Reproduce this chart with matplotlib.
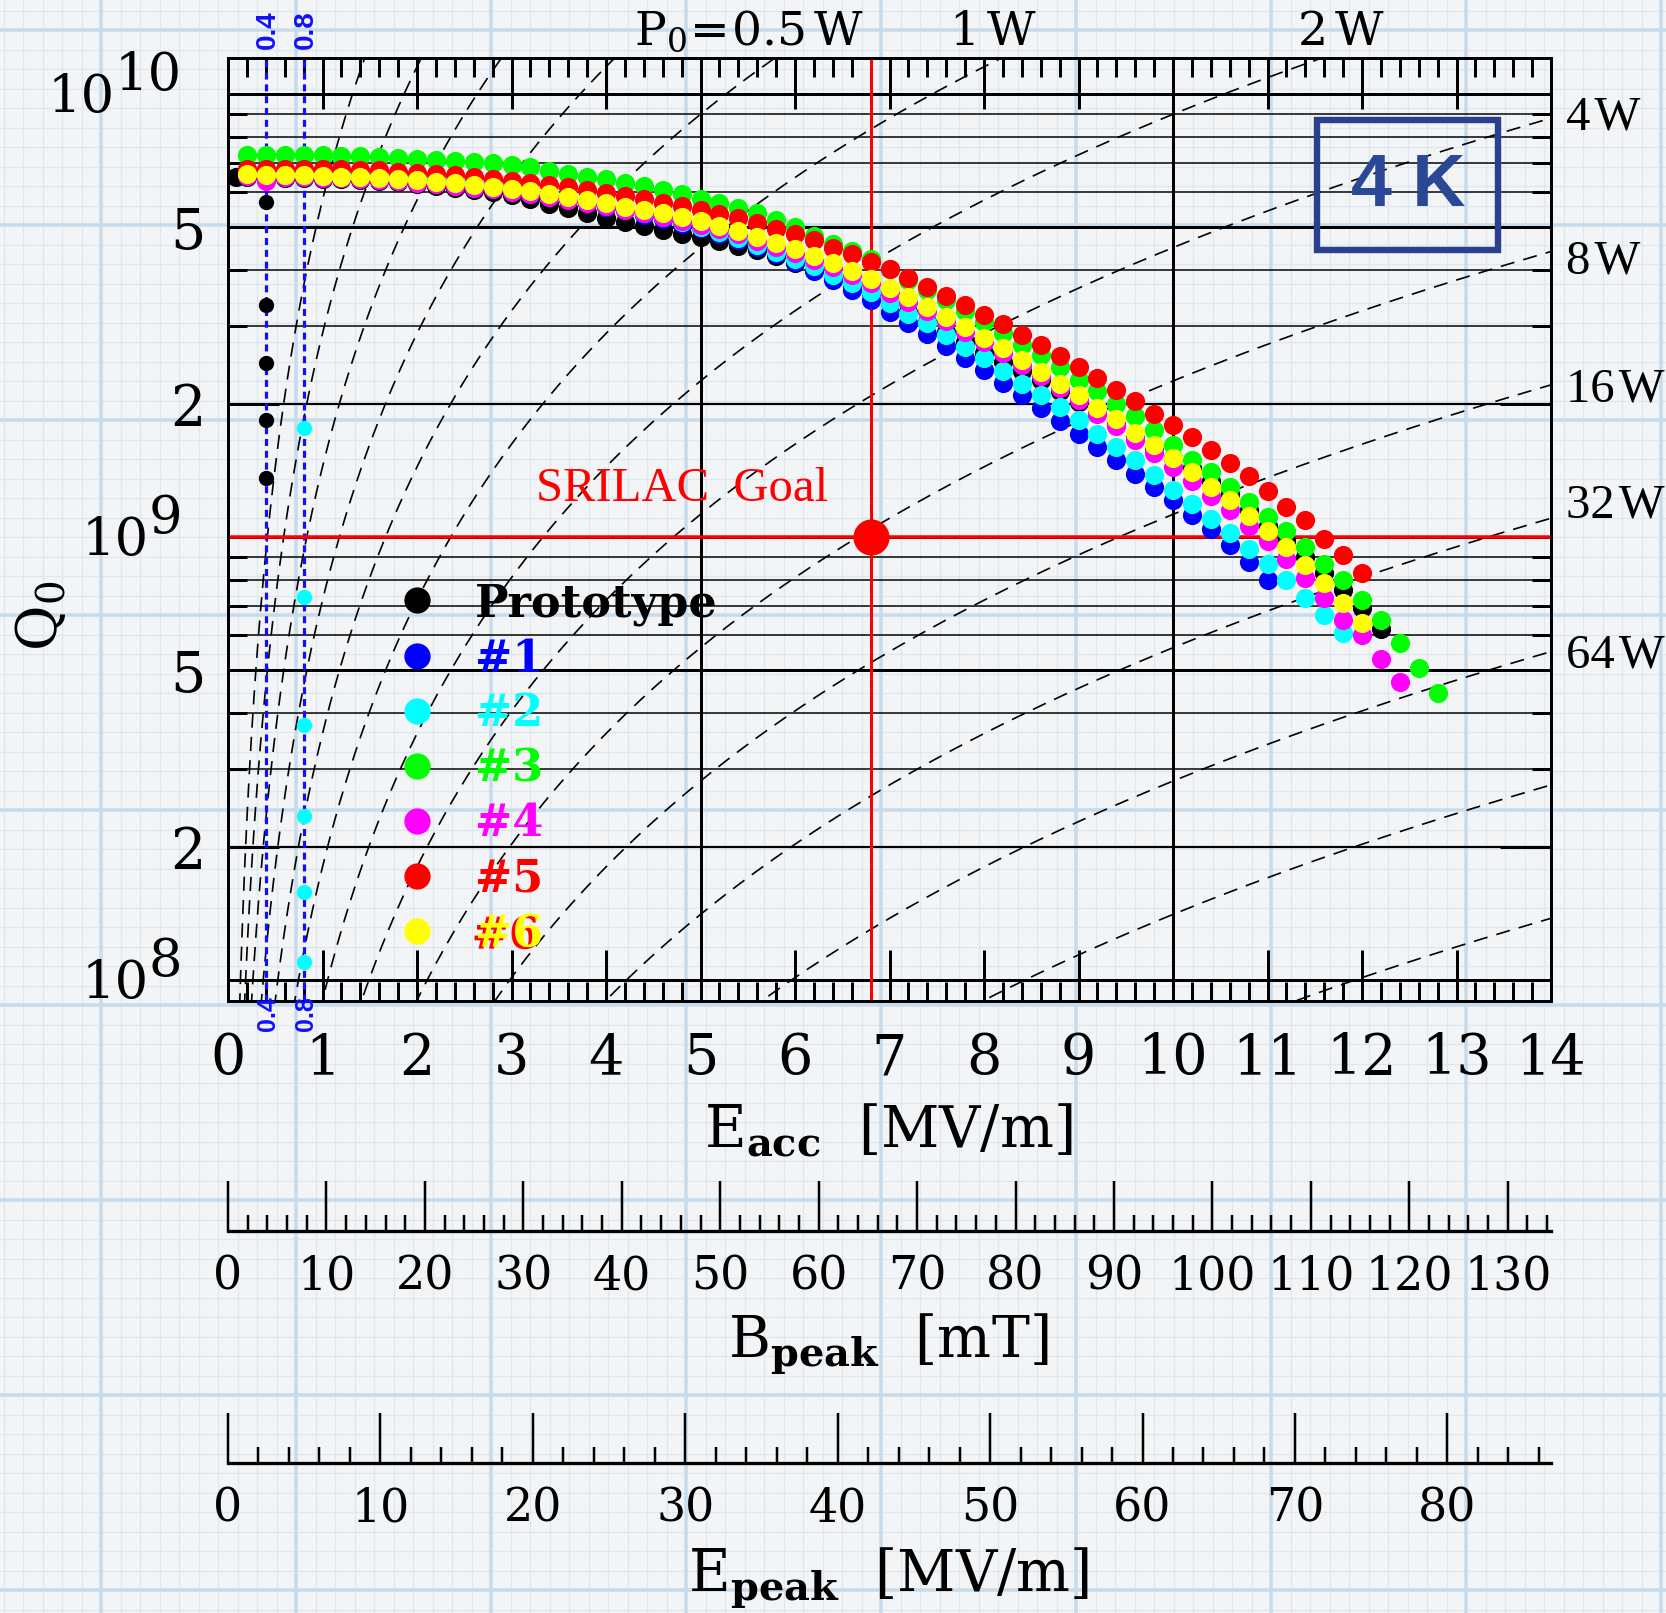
import matplotlib
matplotlib.use("Agg")
import matplotlib.pyplot as plt
import matplotlib.patheffects as pe
from matplotlib.patches import Rectangle
from matplotlib.ticker import MultipleLocator, FixedLocator, NullFormatter
import numpy as np

W_PX, H_PX, DPI = 1666, 1613, 100
PX = 72.0 / DPI  # one pixel in points

plt.rcParams['font.family'] = ['DejaVu Serif']
plt.rcParams['mathtext.fontset'] = 'dejavuserif'

# ---------------- data (Q0 in units of 1e9, E_acc step 0.2 MV/m from 0.2) ----------------
E_STEP = 0.2
Q_PROTO = [6.48, 6.48, 6.47, 6.46, 6.44, 6.42, 6.39, 6.36, 6.32, 6.27,
           6.21, 6.15, 6.08, 6.01, 5.92, 5.80, 5.66, 5.52, 5.38, 5.25,
           5.13, 5.03, 4.93, 4.84, 4.75, 4.65, 4.55, 4.44, 4.30, 4.16,
           4.02, 3.87, 3.71, 3.55, 3.38, 3.22, 3.06, 2.91, 2.75, 2.60,
           2.48, 2.37, 2.26, 2.14, 2.02, 1.91, 1.80, 1.70, 1.60, 1.51,
           1.43, 1.34, 1.25, 1.15, 1.06, 0.98, 0.90, 0.83, 0.76, 0.69,
           0.62]
Q_1 = [6.55, 6.55, 6.54, 6.53, 6.51, 6.49, 6.46, 6.43, 6.39, 6.34,
       6.29, 6.24, 6.18, 6.11, 6.04, 5.96, 5.88, 5.78, 5.68, 5.57,
       5.46, 5.34, 5.22, 5.10, 4.98, 4.84, 4.68, 4.52, 4.35, 4.17,
       3.98, 3.80, 3.62, 3.42, 3.22, 3.04, 2.87, 2.70, 2.54, 2.38,
       2.23, 2.09, 1.96, 1.83, 1.71, 1.60, 1.49, 1.39, 1.30, 1.21,
       1.12, 1.04, 0.96, 0.88, 0.80]
Q_2 = [6.76, 6.75, 6.74, 6.72, 6.69, 6.66, 6.62, 6.58, 6.53, 6.48,
       6.42, 6.36, 6.29, 6.22, 6.14, 6.05, 5.96, 5.86, 5.75, 5.64,
       5.52, 5.40, 5.28, 5.15, 5.02, 4.88, 4.73, 4.57, 4.41, 4.25,
       4.08, 3.90, 3.74, 3.58, 3.37, 3.19, 3.04, 2.86, 2.69, 2.53,
       2.37, 2.22, 2.09, 1.97, 1.84, 1.71, 1.60, 1.49, 1.38, 1.28,
       1.19, 1.10, 1.02, 0.94, 0.87, 0.80, 0.73, 0.665, 0.606]
Q_3 = [7.28, 7.28, 7.28, 7.28, 7.27, 7.26, 7.24, 7.21, 7.18, 7.15,
       7.11, 7.07, 7.02, 6.97, 6.91, 6.84, 6.71, 6.60, 6.51, 6.42,
       6.31, 6.20, 6.07, 5.94, 5.80, 5.67, 5.52, 5.38, 5.19, 5.00,
       4.78, 4.59, 4.42, 4.24, 4.02, 3.81, 3.62, 3.43, 3.23, 3.05,
       2.89, 2.71, 2.57, 2.42, 2.26, 2.14, 2.00, 1.88, 1.74, 1.61,
       1.49, 1.40, 1.30, 1.20, 1.11, 1.03, 0.95, 0.87, 0.80, 0.72,
       0.65, 0.575, 0.505, 0.444]
Q_4 = [6.52, 6.36, 6.50, 6.49, 6.47, 6.45, 6.42, 6.39, 6.35, 6.30,
       6.26, 6.21, 6.15, 6.09, 6.02, 5.95, 5.87, 5.77, 5.68, 5.58,
       5.48, 5.38, 5.28, 5.18, 5.07, 4.95, 4.82, 4.67, 4.52, 4.38,
       4.23, 4.07, 3.90, 3.74, 3.56, 3.40, 3.23, 3.07, 2.91, 2.75,
       2.60, 2.44, 2.31, 2.17, 2.04, 1.90, 1.78, 1.66, 1.55, 1.44,
       1.34, 1.24, 1.15, 1.06, 0.98, 0.89, 0.81, 0.73, 0.65, 0.60,
       0.53, 0.47]
Q_5 = [6.78, 6.78, 6.78, 6.78, 6.77, 6.76, 6.74, 6.72, 6.68, 6.64,
       6.60, 6.55, 6.49, 6.43, 6.37, 6.30, 6.23, 6.16, 6.07, 5.99,
       5.89, 5.78, 5.68, 5.59, 5.47, 5.36, 5.26, 5.11, 4.96, 4.82,
       4.68, 4.50, 4.35, 4.18, 4.02, 3.84, 3.67, 3.50, 3.34, 3.17,
       3.02, 2.86, 2.71, 2.56, 2.42, 2.28, 2.15, 2.03, 1.90, 1.79,
       1.68, 1.57, 1.47, 1.37, 1.27, 1.17, 1.09, 0.99, 0.91, 0.83]
Q_6 = [6.60, 6.58, 6.57, 6.55, 6.53, 6.51, 6.49, 6.46, 6.42, 6.38,
       6.34, 6.29, 6.24, 6.18, 6.11, 6.03, 5.95, 5.84, 5.76, 5.67,
       5.57, 5.47, 5.38, 5.28, 5.17, 5.04, 4.91, 4.75, 4.60, 4.46,
       4.31, 4.15, 3.98, 3.83, 3.64, 3.48, 3.31, 3.14, 2.98, 2.82,
       2.67, 2.51, 2.36, 2.22, 2.09, 1.96, 1.85, 1.72, 1.61, 1.51,
       1.40, 1.30, 1.21, 1.115, 1.03, 0.948, 0.865, 0.789, 0.708, 0.638]

SERIES_NAMES = ["Prototype", "#1", "#2", "#3", "#4", "#5", "#6"]
SERIES_COLORS = ["#000000", "#0000ff", "#00ffff", "#00ff00", "#ff00ff", "#ff0000", "#ffff00"]
SERIES_Q = [Q_PROTO, Q_1, Q_2, Q_3, Q_4, Q_5, Q_6]

# extra low-field points
E_PROTO_FIRST, Q_PROTO_FIRST = 0.08, 6.48
E_PROTO_LOW = [0.4, 0.4, 0.4, 0.4, 0.4]
Q_PROTO_LOW = [5.71, 3.34, 2.47, 1.84, 1.36]
E_CAV2_LOW = [0.8, 0.8, 0.8, 0.8, 0.8, 0.8]
Q_CAV2_LOW = [1.76, 0.734, 0.377, 0.235, 0.158, 0.110]
LOW_FIELD_LINES = [0.4, 0.8]

# constant-power lines: Q0 = K * Eacc^2 / P0
K_GEOM = 1.8e8
POWERS_W = [1 / 32, 1 / 16, 1 / 8, 1 / 4, 1 / 2, 1, 2, 4, 8, 16, 32, 64, 128, 256]
RIGHT_POWER_LABELS = ['4', '8', '16', '32', '64']

GOAL_E, GOAL_Q = 6.8, 1e9
BPEAK_PER_EACC = 9.6   # mT per MV/m
EPEAK_PER_EACC = 6.2

NARROW = ['Liberation Serif', 'DejaVu Serif']


def fx(x):
    return x / W_PX


def fy(y):
    return 1 - y / H_PX


fig = plt.figure(figsize=(W_PX / DPI, H_PX / DPI), dpi=DPI)
fig.patch.set_facecolor('#f3f4f5')

# graph paper background
bg = fig.add_axes([0, 0, 1, 1], zorder=-10)
bg.set_xlim(0, W_PX)
bg.set_ylim(H_PX, 0)
bg.axis('off')
cell = 19.5
xs = np.arange(4, W_PX, cell)
ys = np.arange(10.5, H_PX, cell)
bg.vlines(xs, 0, H_PX, colors='#dce8f1', lw=1.2 * PX)
bg.hlines(ys, 0, W_PX, colors='#dce8f1', lw=1.2 * PX)
bg.vlines(xs[5::10], 0, H_PX, colors='#c6dcec', lw=3.5 * PX)
bg.hlines(ys[1::10], 0, W_PX, colors='#c6dcec', lw=3.5 * PX)

# ---------------- main axes ----------------
ax = fig.add_axes([fx(228), fy(1001), fx(1551) - fx(228), (1001 - 58) / H_PX])
ax.patch.set_alpha(0)
ax.set_xlim(0, 14)
ax.set_yscale('log')
ax.set_ylim(10 ** 7.9526, 10 ** 10.0813)

for s in ax.spines.values():
    s.set_linewidth(3 * PX)

# horizontal grid
for d in (8, 9):
    for m in range(1, 10):
        lw = 3 if m in (1, 5) else (2.2 if m == 2 else 1.5)
        ax.axhline(m * 10.0 ** d, color='k', lw=lw * PX, zorder=1)
ax.axhline(1e10, color='k', lw=3 * PX, zorder=1)
for xv in (5, 10):
    ax.axvline(xv, color='k', lw=3 * PX, zorder=1)

# constant-power dashed lines
e_line = np.linspace(0.005, 14, 1200)
for p in POWERS_W:
    ax.plot(e_line, K_GEOM * e_line ** 2 / p, color='k', lw=1.2, dashes=(8.5, 5.5), zorder=1.5)

# low-field markers lines
for ev in LOW_FIELD_LINES:
    ax.axvline(ev, color='#1010ff', lw=2.3, dashes=(2.2, 1.5), zorder=2)

# goal lines
ax.axvline(GOAL_E, color='#ff0000', lw=3 * PX, zorder=2)
ax.axhline(GOAL_Q, color='#ff0000', lw=3.5 * PX, zorder=2)

# data
handles = []
for name, col, q in zip(SERIES_NAMES, SERIES_COLORS, SERIES_Q):
    e = E_STEP * np.arange(1, len(q) + 1)
    h, = ax.plot(e, np.array(q) * 1e9, 'o', color=col, ms=13.8, mew=0, zorder=3, label=name)
    handles.append(h)
ax.plot([E_PROTO_FIRST], [Q_PROTO_FIRST * 1e9], 'o', color='k', ms=13.8, mew=0, zorder=2.9)
ax.plot(E_PROTO_LOW, np.array(Q_PROTO_LOW) * 1e9, 'o', color='k', ms=11, mew=0, zorder=3)
ax.plot(E_CAV2_LOW, np.array(Q_CAV2_LOW) * 1e9, 'o', color='#00ffff', ms=11, mew=0, zorder=3)
ax.plot([GOAL_E], [GOAL_Q], 'o', color='#ff0000', ms=26, mew=0, zorder=4)

# ticks
ax.xaxis.set_major_locator(MultipleLocator(1))
ax.xaxis.set_minor_locator(MultipleLocator(0.2))
ax.yaxis.set_major_locator(FixedLocator([1e8, 2e8, 5e8, 1e9, 2e9, 5e9, 1e10]))
ax.yaxis.set_minor_locator(FixedLocator([m * 10.0 ** d for d in (8, 9) for m in (3, 4, 6, 7, 8, 9)]))
ax.yaxis.set_minor_formatter(NullFormatter())
ax.set_yticklabels(['', '2', '5', '', '2', '5', ''])
ax.tick_params(which='both', direction='in', top=True, right=True, width=3 * PX)
ax.tick_params(which='major', length=51 * PX)
ax.tick_params(which='minor', length=19 * PX)
ax.tick_params(axis='x', which='major', labelsize=40, pad=22)
ax.tick_params(axis='y', which='major', labelsize=40, pad=16)

# 10^n labels
ytrans = ax.get_yaxis_transform()
for p in (8, 9, 10):
    ex = ax.annotate(str(p), xy=((182 - 228) / 1323, 10.0 ** p), xycoords=ytrans,
                     xytext=(0, 19), textcoords='offset pixels', ha='right', va='center',
                     fontsize=38, annotation_clip=False)
    ax.annotate('10', xy=(0, 0.5), xycoords=ex, xytext=(0, -22), textcoords='offset pixels',
                ha='right', va='center', fontsize=38, annotation_clip=False)

# legend
leg = ax.legend(handles=handles, loc='upper left', bbox_to_anchor=((395 - 228) / 1323, (1001 - 582) / 943),
                frameon=False, prop={'size': 32, 'weight': 'bold'}, markerscale=1.37, handlelength=1.0,
                handletextpad=0.8, labelspacing=0.27, borderpad=0, borderaxespad=0,
                labelcolor=SERIES_COLORS)
leg.set_zorder(5)
leg.get_texts()[6].set_path_effects([pe.withSimplePatchShadow(offset=(-2.5, -1.5), shadow_rgbFace='#ff0000',
                                                              alpha=1.0)])

# ---------------- texts around main axes ----------------
ax.text((682 - 228) / 1323, (1001 - 489) / 943, 'SRILAC  Goal', transform=ax.transAxes, color='#ff0000',
        fontsize=35, family=NARROW, ha='center', va='center', zorder=5)

fig.text(fx(749), fy(32), r'$\mathrm{P_0\!=\!0.5\,W}$', fontsize=34, ha='center', va='center')
fig.text(fx(993), fy(32), r'$\mathrm{1\,W}$', fontsize=34, ha='center', va='center')
fig.text(fx(1341), fy(32), r'$\mathrm{2\,W}$', fontsize=34, ha='center', va='center')
for lab, yy in zip(RIGHT_POWER_LABELS, (117, 262, 389, 505, 656)):
    fig.text(fx(1566), fy(yy), lab + '\u200aW', fontsize=35, family=NARROW, ha='left', va='center')

for ev in LOW_FIELD_LINES:
    xp = 228 + ev * 94.5 + 2
    for yy, fs in ((30, 20), (1014, 18)):
        fig.text(fx(xp), fy(yy), '%.1f' % ev, rotation=90, color='#1010ff', fontsize=fs,
                 family=['Liberation Sans', 'DejaVu Sans'], weight='bold', ha='center', va='center')

# 4 K box
fig.patches.append(Rectangle((fx(1317), fy(250)), fx(1498) - fx(1317), (250 - 120) / H_PX,
                             transform=fig.transFigure, fill=False, ec='#2b3f8f', lw=6.4 * PX))
fig.text(fx(1408), fy(186), '4 K', color='#2b4896', fontsize=53, weight='bold',
         family=['Liberation Sans', 'DejaVu Sans'], ha='center', va='center')

fig.text(fx(42), fy(616), r'$\mathrm{Q_0}$', rotation=90, fontsize=40, ha='center', va='center')
fig.text(fx(888), fy(1131), r'$\mathrm{E}_{\mathbf{acc}}\ \ \mathrm{[MV/m]}$', fontsize=41, ha='center', va='center')
fig.text(fx(888), fy(1344), r'$\mathrm{B}_{\mathbf{peak}}\ \ \mathrm{[mT]}$', fontsize=41, ha='center', va='center')
fig.text(fx(888), fy(1578), r'$\mathrm{E}_{\mathbf{peak}}\ \ \mathrm{[MV/m]}$', fontsize=41, ha='center', va='center')


# ---------------- secondary scales ----------------
def scale_axis(y_px, ratio, pad):
    a = fig.add_axes([fx(228), fy(y_px), fx(1551) - fx(228), 0.03])
    a.patch.set_alpha(0)
    a.set_xlim(0, 14 * ratio)
    for s in ('top', 'left', 'right'):
        a.spines[s].set_visible(False)
    a.spines['bottom'].set_linewidth(3.3 * PX)
    a.set_yticks([])
    a.xaxis.set_major_locator(MultipleLocator(10))
    a.xaxis.set_minor_locator(MultipleLocator(2))
    a.tick_params(axis='x', which='both', direction='in', width=2.5 * PX)
    a.tick_params(axis='x', which='major', length=50 * PX, labelsize=33, pad=pad)
    a.tick_params(axis='x', which='minor', length=16 * PX)
    return a


scale_axis(1231, BPEAK_PER_EACC, 17)
scale_axis(1463, EPEAK_PER_EACC, 17)

fig.savefig('out.png', dpi=DPI, facecolor=fig.get_facecolor())
